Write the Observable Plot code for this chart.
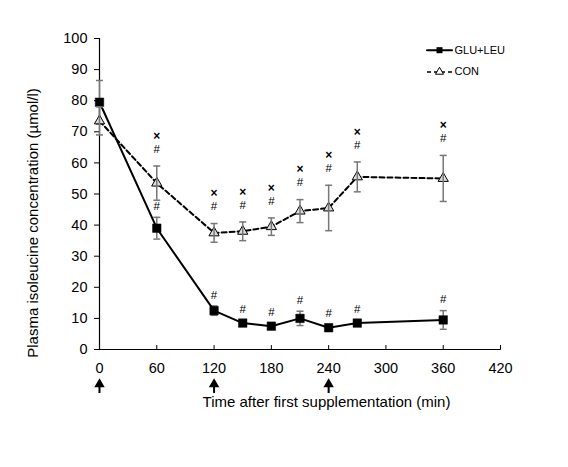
<!DOCTYPE html>
<html>
<head>
<meta charset="utf-8">
<script src="https://cdn.jsdelivr.net/npm/d3@7"></script>
<script src="https://cdn.jsdelivr.net/npm/@observablehq/plot@0.6"></script>
<style>
  html, body { margin: 0; padding: 0; background: white; }
</style>
</head>
<body>
<div id="chart"></div>
<script>
const times   = [0, 60, 120, 150, 180, 210, 240, 270, 360];
const gluMean = [79.5, 39, 12.5, 8.5, 7.5, 10, 7, 8.5, 9.5];
const gluErr  = [7, 3.5, 1.5, 1, 1, 2.3, 1, 1, 3];
const conMean = [73.5, 53.5, 37.5, 38, 39.5, 44.5, 45.5, 55.5, 55];
const conErr  = [4.5, 5.5, 3, 3, 2.8, 3.7, 7.3, 4.8, 7.4];
const gluSig  = ["", "#", "#", "#", "#", "#", "#", "#", "#"];
const conSigHash = ["", "#", "#", "#", "#", "#", "#", "#", "#"];
const conSigStar = ["", "×", "×", "×", "×", "×", "×", "×", "×"];
const xTicks = [0, 60, 120, 180, 240, 300, 360, 420];
const yTicks = [0, 10, 20, 30, 40, 50, 60, 70, 80, 90, 100];
const supplementTimes = [0, 120, 240];
const seriesNames = ["GLU+LEU", "CON"];
const xLabel = "Time after first supplementation (min)";
const yLabel = "Plasma isoleucine concentration (µmol/l)";

const glu = times.map((t, i) => ({t, m: gluMean[i], e: gluErr[i], s: gluSig[i]}));
const con = times.map((t, i) => ({t, m: conMean[i], e: conErr[i], h: conSigHash[i], x: conSigStar[i]}));

const lineShape = {draw(ctx, l) { ctx.moveTo(0, 0); ctx.lineTo(0, -l); }};
const arrowShape = {draw(ctx, l) {
  ctx.moveTo(0, 0); ctx.lineTo(0, -l + 5);
  ctx.moveTo(-3.5, -l + 6); ctx.lineTo(0, -l); ctx.lineTo(3.5, -l + 6); ctx.closePath();
}};

const font = "'Liberation Sans', Arial, sans-serif";

const chart = Plot.plot({
  width: 568,
  height: 467,
  marginLeft: 99,
  marginRight: 68,
  marginTop: 38,
  marginBottom: 118,
  style: {fontFamily: font, fontSize: "14.5px", background: "white", color: "black"},
  x: {domain: [0, 420]},
  y: {domain: [0, 100]},
  marks: [
    Plot.axisY({ticks: yTicks, tickSize: 5, tickPadding: 7, fontSize: 14.5, label: null, strokeWidth: 1}),
    Plot.axisX({ticks: xTicks, tickSize: 0, tickPadding: 13, fontSize: 14.5, label: null}),
    Plot.vector(xTicks, {x: d => d, frameAnchor: "bottom", length: 4, anchor: "start", shape: lineShape, strokeWidth: 1, stroke: "black"}),
    Plot.ruleX([0], {stroke: "black", strokeWidth: 1.2}),
    Plot.ruleY([0], {stroke: "black", strokeWidth: 1.2}),
    // GLU+LEU
    Plot.ruleX(glu, {x: "t", y1: d => d.m - d.e, y2: d => d.m + d.e, stroke: "#777", strokeWidth: 1.5}),
    Plot.vector(glu, {x: "t", y: d => d.m + d.e, rotate: 90, anchor: "middle", length: 7, shape: lineShape, stroke: "#777", strokeWidth: 1.5, strokeLinecap: "butt"}),
    Plot.vector(glu, {x: "t", y: d => d.m - d.e, rotate: 90, anchor: "middle", length: 7, shape: lineShape, stroke: "#777", strokeWidth: 1.5, strokeLinecap: "butt"}),
    Plot.line(glu, {x: "t", y: "m", stroke: "black", strokeWidth: 2}),
    Plot.dot(glu, {x: "t", y: "m", symbol: "square", r: 4.8, fill: "black", stroke: "black", strokeWidth: 0.5}),
    // CON
    Plot.line(con, {x: "t", y: "m", stroke: "black", strokeWidth: 2, strokeDasharray: "5,3"}),
    Plot.dot(con, {x: "t", y: "m", symbol: "triangle", r: 3.8, fill: "#ddd", stroke: "black", strokeWidth: 1}),
    Plot.ruleX(con, {x: "t", y1: d => d.m - d.e, y2: d => d.m + d.e, stroke: "#777", strokeWidth: 1.5}),
    Plot.vector(con, {x: "t", y: d => d.m + d.e, rotate: 90, anchor: "middle", length: 7, shape: lineShape, stroke: "#777", strokeWidth: 1.5, strokeLinecap: "butt"}),
    Plot.vector(con, {x: "t", y: d => d.m - d.e, rotate: 90, anchor: "middle", length: 7, shape: lineShape, stroke: "#777", strokeWidth: 1.5, strokeLinecap: "butt"}),
    // significance marks
    Plot.text(glu, {x: "t", y: d => d.m + d.e, text: "s", dy: -11, fontSize: 11.5, fill: "black"}),
    Plot.text(con, {x: "t", y: d => d.m + d.e, text: "h", dy: -17, fontSize: 11.5, fill: "black"}),
    Plot.text(con, {x: "t", y: d => d.m + d.e, text: "x", dy: -30, fontSize: 12, fontWeight: "bold", fill: "black"}),
    // supplementation arrows
    Plot.vector(supplementTimes, {x: d => d, frameAnchor: "bottom", dy: 43.4, length: 12.7, anchor: "start", shape: arrowShape, stroke: "black", fill: "black", strokeWidth: 2, strokeLinejoin: "miter", strokeLinecap: "butt"}),
    // axis titles
    Plot.text([xLabel], {frameAnchor: "bottom", dx: 26.5, dy: 52.4, textAnchor: "middle", lineAnchor: "middle", fontSize: 15, fill: "black"}),
    Plot.text([yLabel], {frameAnchor: "left", dx: -66.3, dy: 29, rotate: -90, textAnchor: "middle", lineAnchor: "middle", fontSize: 15, fill: "black"}),
    // legend
    Plot.vector([seriesNames[0]], {frameAnchor: "top-right", dx: -61, dy: 11.7, rotate: 90, anchor: "middle", length: 25, shape: lineShape, stroke: "black", strokeWidth: 2}),
    Plot.dot([seriesNames[0]], {frameAnchor: "top-right", dx: -61, dy: 11.7, symbol: "square", r: 3.4, fill: "black"}),
    Plot.text([seriesNames[0]], {frameAnchor: "top-right", dx: -46, dy: 11.7, textAnchor: "start", lineAnchor: "middle", fontSize: 11, fill: "black"}),
    Plot.vector([seriesNames[1]], {frameAnchor: "top-right", dx: -61, dy: 33.4, rotate: 90, anchor: "middle", length: 25, shape: lineShape, stroke: "black", strokeWidth: 1.5, strokeDasharray: "4,3", strokeLinecap: "butt"}),
    Plot.dot([seriesNames[1]], {frameAnchor: "top-right", dx: -61, dy: 33.4, symbol: "triangle", r: 3, fill: "white", stroke: "black", strokeWidth: 1}),
    Plot.text([seriesNames[1]], {frameAnchor: "top-right", dx: -46, dy: 33.4, textAnchor: "start", lineAnchor: "middle", fontSize: 11, fill: "black"})
  ]
});
document.getElementById("chart").appendChild(chart);
</script>
</body>
</html>
